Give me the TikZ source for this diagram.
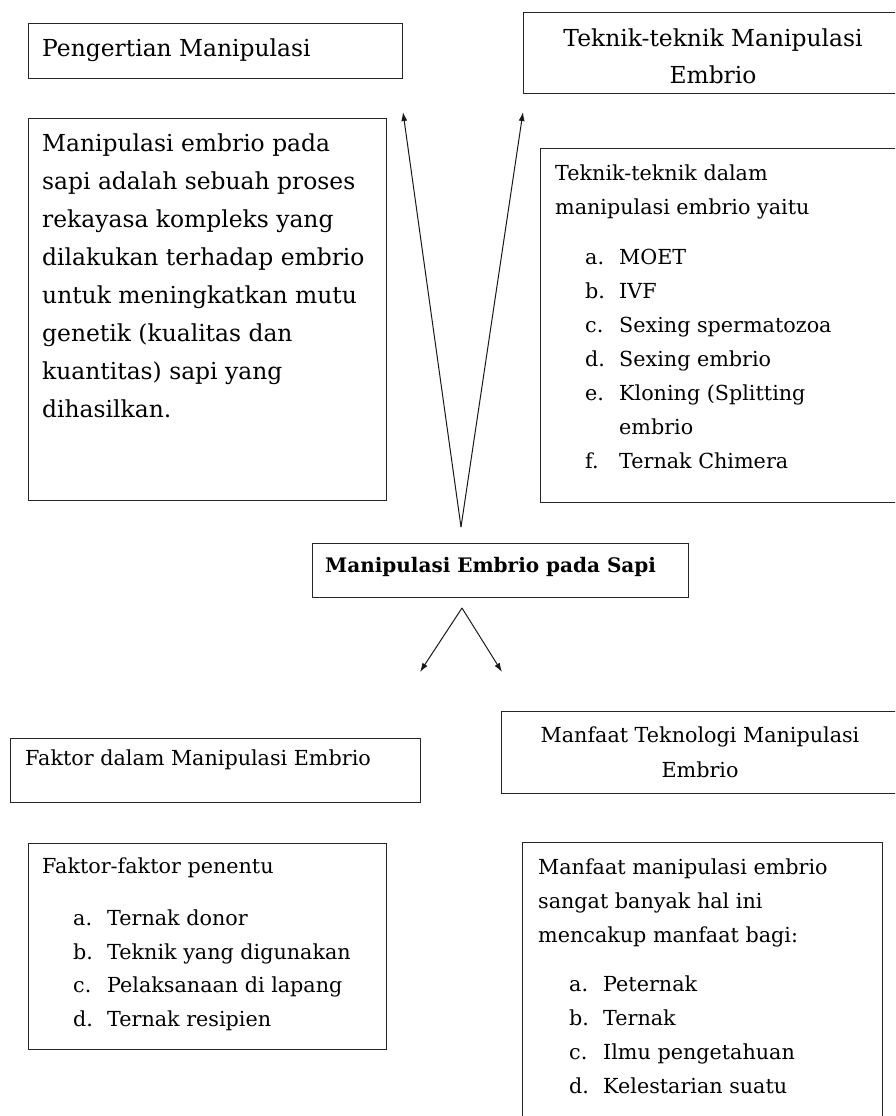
\documentclass[tikz,border=0pt]{standalone}
\usepackage{fontspec}
\setmainfont{DejaVu Serif}
\usetikzlibrary{arrows.meta}
\begin{document}
\begin{tikzpicture}[x=1pt,y=1pt,
  box/.style={draw=black!85, line width=1.3pt, inner sep=0pt, anchor=north west},
  big/.style={font=\fontsize{23.4}{38}\selectfont},
  small/.style={font=\fontsize{20.7}{34}\selectfont},
  txt/.style={inner sep=0pt, align=left, anchor=north west, text=black},
  arr/.style={line width=1pt, black!90, -{Latex[length=9pt,width=6pt]}}]
\clip (0,0) rectangle (895,-1116);
\fill[white] (0,0) rectangle (895,-1116);
% boxes
\node[box, minimum width=374pt, minimum height=55pt]  (b1) at (28,-23)  {};
\node[box, minimum width=358pt, minimum height=382pt] (b2) at (28,-118) {};
\node[box, minimum width=390pt, minimum height=81pt]  (b3) at (523,-12) {};
\node[box, minimum width=370pt, minimum height=354pt] (b4) at (540,-148) {};
\node[box, minimum width=376pt, minimum height=54pt]  (bc) at (312,-543) {};
\node[box, minimum width=410pt, minimum height=64pt]  (b5) at (10,-738) {};
\node[box, minimum width=358pt, minimum height=206pt] (b6) at (28,-843) {};
\node[box, minimum width=400pt, minimum height=82pt]  (b7) at (501,-711) {};
\node[box, minimum width=360pt, minimum height=300pt] (b8) at (522,-842) {};
% texts
\node[txt, big, anchor=west] (t1) at (42,-50) {Pengertian Manipulasi};
\node[txt, big] (t2) at (42,-134) {Manipulasi embrio pada\\sapi adalah sebuah proses\\rekayasa kompleks yang\\dilakukan terhadap embrio\\untuk meningkatkan mutu\\genetik (kualitas dan\\kuantitas) sapi yang\\dihasilkan.};
\node[txt, font=\fontsize{23.4}{37}\selectfont, align=center, anchor=north] (t3) at (713,-29) {Teknik-teknik Manipulasi\\Embrio};
\node[txt, small] (t4) at (555,-165) {Teknik-teknik dalam\\manipulasi embrio yaitu};
\node[txt, small] (l4) at (585,-249) {\makebox[34pt][l]{a.}MOET\\\makebox[34pt][l]{b.}IVF\\\makebox[34pt][l]{c.}Sexing spermatozoa\\\makebox[34pt][l]{d.}Sexing embrio\\\makebox[34pt][l]{e.}Kloning (Splitting\\\hspace*{34pt}embrio\\\makebox[34pt][l]{f.}Ternak Chimera};
\node[txt, font=\bfseries\fontsize{20}{30}\selectfont, anchor=west] (tc) at (325,-567) {Manipulasi Embrio pada Sapi};
\node[txt, small, anchor=west] (t5) at (25,-760) {Faktor dalam Manipulasi Embrio};
\node[txt, small] (t6) at (42,-858) {Faktor-faktor penentu};
\node[txt, font=\fontsize{20.7}{33.5}\selectfont] (l6) at (73,-910) {\makebox[34pt][l]{a.}Ternak donor\\\makebox[34pt][l]{b.}Teknik yang digunakan\\\makebox[34pt][l]{c.}Pelaksanaan di lapang\\\makebox[34pt][l]{d.}Ternak resipien};
\node[txt, font=\fontsize{20.7}{35}\selectfont, align=center, anchor=north] (t7) at (700,-727) {Manfaat Teknologi Manipulasi\\Embrio};
\node[txt, small] (t8) at (538,-859) {Manfaat manipulasi embrio\\sangat banyak hal ini\\mencakup manfaat bagi:};
\node[txt, font=\fontsize{20.7}{33.7}\selectfont] (l8) at (569,-976) {\makebox[34pt][l]{a.}Peternak\\\makebox[34pt][l]{b.}Ternak\\\makebox[34pt][l]{c.}Ilmu pengetahuan\\\makebox[34pt][l]{d.}Kelestarian suatu};
% arrows
\coordinate (up) at (461,-527);
\coordinate (upL) at (403,-112);
\coordinate (upR) at (523,-112);
\coordinate (dn) at (462,-608);
\coordinate (dnL) at (420,-672);
\coordinate (dnR) at (502,-672);
\draw[arr] (up) -- (upL);
\draw[arr] (up) -- (upR);
\draw[arr] (dn) -- (dnL);
\draw[arr] (dn) -- (dnR);
\end{tikzpicture}
\end{document}
